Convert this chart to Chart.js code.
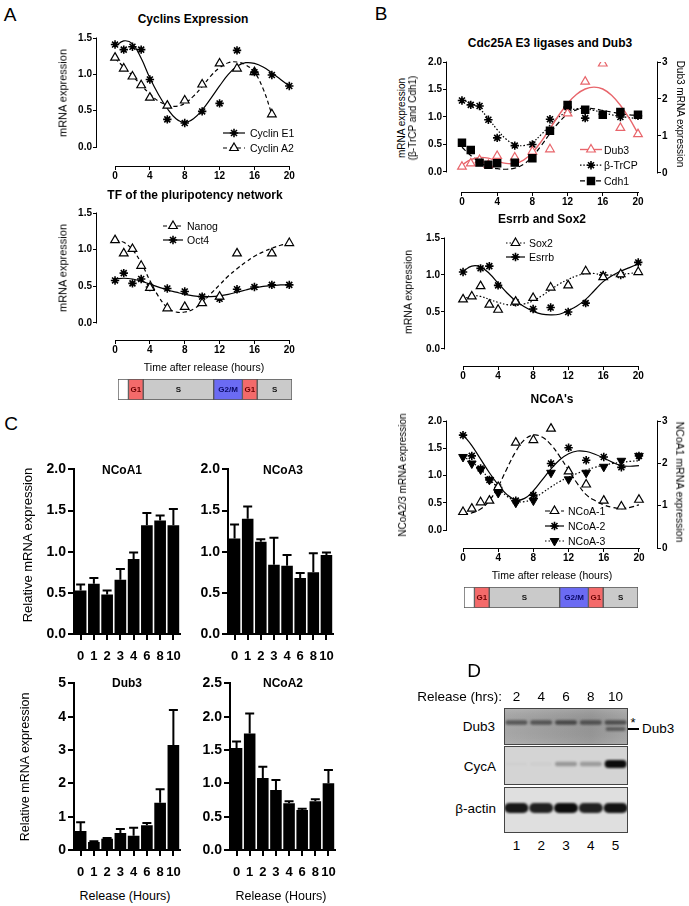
<!DOCTYPE html>
<html><head><meta charset="utf-8">
<script src="https://cdn.jsdelivr.net/npm/chart.js@4.4.1/dist/chart.umd.min.js"></script>
<style>
html,body{margin:0;padding:0;background:#fff;}
body{width:689px;height:906px;position:relative;overflow:hidden;font-family:"Liberation Sans",Arial,Helvetica,sans-serif;color:#000;}
.t{position:absolute;white-space:nowrap;line-height:1;}
canvas{position:absolute;}
</style></head><body>
<script>
// ================= DATA =================
// Panel A (top) - Cyclins expression
const cyclinE1Hours = [0,1,2,3,4,6,8,10,12,14,16,18,20];
const cyclinE1 = [1.41,1.34,1.38,1.34,0.93,0.38,0.33,0.49,0.60,1.33,1.03,0.99,0.84];
const cyclinA2Hours = [0,1,2,3,4,6,8,10,12,14,16,18];
const cyclinA2 = [1.23,1.08,0.97,0.85,0.68,0.57,0.64,0.86,1.15,1.08,1.03,0.45];
const fitHours = [0,1,2,3,4,5,6,7,8,9,10,11,12,13,14,15,16,17,18,19,20];
const fitHoursTo18 = [0,1,2,3,4,5,6,7,8,9,10,11,12,13,14,15,16,17,18];
const cyclinE1Fit = [1.38,1.46,1.42,1.22,0.95,0.72,0.53,0.39,0.34,0.39,0.51,0.67,0.84,1.00,1.11,1.16,1.15,1.10,1.02,0.93,0.84];
const cyclinA2Fit = [1.22,1.10,0.98,0.85,0.73,0.63,0.58,0.56,0.60,0.70,0.83,0.98,1.09,1.16,1.17,1.13,1.03,0.80,0.45];

// Panel A (bottom) - TF of the pluripotency network
const nanogHours = [0,1,2,3,4,6,8,10,12,14,18,20];
const nanog = [1.13,0.95,1.01,0.78,0.48,0.20,0.22,0.27,0.36,0.95,0.95,1.09];
const oct4Hours = [0,1,2,3,4,6,8,10,12,14,16,18,20];
const oct4 = [0.58,0.68,0.54,0.60,0.49,0.47,0.43,0.36,0.33,0.46,0.49,0.52,0.52];
const nanogFit = [1.13,1.10,1.00,0.82,0.58,0.36,0.21,0.15,0.15,0.19,0.28,0.40,0.52,0.64,0.74,0.83,0.91,0.97,1.02,1.06,1.08];
const oct4Fit = [0.60,0.61,0.60,0.57,0.53,0.49,0.45,0.42,0.39,0.37,0.36,0.36,0.37,0.39,0.42,0.45,0.48,0.50,0.51,0.52,0.52];

// Panel B (top) - Cdc25A E3 ligases and Dub3
const bHours = [0,1,2,3,4,6,8,10,12,14,16,18,20];
const dub3Time = [0.17,0.26,0.35,0.22,0.46,0.42,0.58,0.64,1.61,2.47,2.96,1.22,1.05];
const btrcp = [1.30,1.22,1.20,0.95,0.62,0.48,0.50,0.96,1.18,0.98,1.05,1.00,1.02];
const cdh1 = [0.53,0.40,0.17,0.13,0.16,0.17,0.25,0.75,1.22,1.13,1.04,1.09,1.04];
const dub3Fit = [0.22,0.36,0.42,0.40,0.32,0.26,0.26,0.35,0.55,0.85,1.20,1.56,1.88,2.12,2.27,2.32,2.27,2.10,1.83,1.48,1.07];
const btrcpFit = [1.30,1.26,1.15,0.97,0.77,0.60,0.50,0.48,0.54,0.68,0.85,1.00,1.10,1.15,1.15,1.12,1.08,1.04,1.01,0.99,0.97];
const cdh1Fit = [0.45,0.30,0.18,0.10,0.06,0.05,0.07,0.14,0.28,0.48,0.70,0.90,1.05,1.13,1.16,1.15,1.12,1.09,1.06,1.04,1.03];

// Panel B (middle) - Esrrb and Sox2
const sox2Hours = [0,1,2,3,4,6,8,10,12,14,16,18,20];
const sox2 = [0.67,0.71,0.85,0.60,0.53,0.64,0.69,0.83,0.86,1.05,0.97,1.01,1.04];
const esrrbHours = [0,2,3,4,6,8,10,12,14,16,18,20];
const esrrb = [1.04,1.09,1.12,0.86,0.63,0.54,0.56,0.50,0.62,1.00,1.00,1.17];
const sox2Fit = [0.67,0.72,0.71,0.67,0.63,0.60,0.59,0.61,0.65,0.72,0.80,0.88,0.94,0.99,1.02,1.02,1.00,1.00,1.01,1.02,1.04];
const esrrbFit = [1.05,1.12,1.11,1.02,0.89,0.76,0.65,0.57,0.51,0.47,0.46,0.47,0.52,0.58,0.67,0.79,0.91,0.99,1.05,1.10,1.15];

// Panel B (bottom) - NCoA's
const ncoa1Time = [0.85,0.93,1.08,1.12,1.44,2.49,2.55,2.82,1.81,1.50,1.12,0.98,1.14];
const ncoa2Time = [1.74,1.36,1.13,0.92,0.78,0.54,0.64,1.22,1.51,1.28,1.34,1.15,1.36];
const ncoa3Time = [1.34,1.22,1.11,0.92,0.68,0.50,0.54,1.05,0.93,1.05,1.16,1.27,1.36];
const ncoa1Fit = [0.80,0.83,0.92,1.12,1.45,1.88,2.28,2.56,2.67,2.62,2.44,2.16,1.84,1.52,1.26,1.12,1.02,0.96,0.93,0.96,1.02];
const ncoa2Fit = [1.75,1.55,1.30,1.05,0.83,0.65,0.55,0.58,0.72,0.92,1.12,1.29,1.40,1.45,1.44,1.39,1.32,1.24,1.18,1.17,1.18];
const ncoa3Fit = [1.35,1.25,1.11,0.94,0.77,0.62,0.53,0.52,0.58,0.68,0.79,0.89,0.97,1.04,1.10,1.15,1.19,1.22,1.24,1.26,1.27];

const timeTicks = [0,4,8,12,16,20];

// Cell-cycle phase bars
const phaseLabels = ['', 'G1', 'S', 'G2/M', 'G1', 'S'];
const phaseStart = [0, 1.2, 2.9, 11, 14.3, 16];
const phaseEnd = [1.2, 2.9, 11, 14.3, 16, 20];

// Panel C - relative mRNA expression bars
const releaseHours = ['0','1','2','3','4','6','8','10'];
const ncoa1Rel = [0.53,0.61,0.48,0.66,0.91,1.32,1.38,1.32];
const ncoa1RelErr = [0.07,0.07,0.05,0.13,0.08,0.15,0.06,0.20];
const ncoa3Rel = [1.16,1.40,1.12,0.84,0.83,0.68,0.75,0.96];
const ncoa3RelErr = [0.17,0.15,0.03,0.33,0.13,0.06,0.23,0.03];
const dub3Rel = [0.57,0.24,0.34,0.51,0.43,0.74,1.42,3.15];
const dub3RelErr = [0.26,0.02,0.02,0.12,0.24,0.07,0.40,1.05];
const ncoa2Rel = [1.53,1.75,1.08,0.90,0.70,0.60,0.73,1.00];
const ncoa2RelErr = [0.10,0.30,0.17,0.15,0.03,0.02,0.03,0.20];

// Panel D - western blot band intensities (0-1)
const blotTimes = ['2','4','6','8','10'];
const blotLanes = ['1','2','3','4','5'];
const dub3Band = [0.5,0.5,0.58,0.5,0.55];
const dub3LowerBand = [0,0,0,0,0.45];
const cycABand = [0.02,0.03,0.3,0.28,1.0];
const actinBand = [0.95,0.9,1.0,0.9,0.97];

// ================= HELPERS =================
const FONT = '"Liberation Sans", Arial, Helvetica, sans-serif';
Chart.defaults.font.family = FONT;
Chart.defaults.color = '#000';
const RED = '#e8656b';

function txt(s, x, y, o = {}) {
  const d = document.createElement('div');
  d.className = 't';
  d.textContent = s;
  const ax = o.align === 'left' ? '0' : o.align === 'right' ? '-100%' : '-50%';
  d.style.left = x + 'px'; d.style.top = y + 'px';
  d.style.fontSize = (o.size || 11) + 'px';
  d.style.fontWeight = o.bold ? 'bold' : 'normal';
  if (o.color) d.style.color = o.color;
  d.style.transform = `translate(${ax},-50%)` + (o.rot ? ` rotate(${o.rot}deg)` : '');
  document.body.appendChild(d);
  return d;
}
function mkCanvas(left, top, w, h) {
  const c = document.createElement('canvas');
  c.width = w; c.height = h;
  c.style.left = left + 'px'; c.style.top = top + 'px';
  c.style.width = w + 'px'; c.style.height = h + 'px';
  document.body.appendChild(c);
  return c;
}
function pts(xs, ys) { return ys.map((y, i) => ({ x: xs[i], y })); }

function ptsDS(data, style, o = {}) {
  return Object.assign({ data, showLine: false, pointStyle: style, pointRadius: 4,
    pointBorderWidth: 1.4, pointBorderColor: '#000', pointBackgroundColor: '#000',
    borderColor: '#000', order: 1 }, o);
}
function fitDS(data, dash, o = {}) {
  return Object.assign({ data, showLine: true, pointRadius: 0, borderColor: '#000',
    borderWidth: 1.2, borderDash: dash, tension: 0.4, fill: false, order: 5 }, o);
}
const TRI = { pointRadius: 5, pointBackgroundColor: '#fff', pointBorderWidth: 1.2 };

const gpAxes = { id: 'gpAxes', afterDraw(chart, args, o) {
  const ctx = chart.ctx, a = chart.chartArea;
  ctx.save(); ctx.strokeStyle = '#000'; ctx.lineWidth = 1; ctx.setLineDash([]);
  ctx.beginPath();
  if (o.x) { const X = chart.scales.x; ctx.moveTo(Math.round(X.getPixelForValue(o.x[0])), Math.round(a.bottom) + 0.5); ctx.lineTo(Math.round(X.getPixelForValue(o.x[1])) + 1, Math.round(a.bottom) + 0.5); }
  if (o.y) { const Y = chart.scales.y; ctx.moveTo(Math.round(a.left) - 0.5, Y.getPixelForValue(o.y[0]) + 0.5); ctx.lineTo(Math.round(a.left) - 0.5, Y.getPixelForValue(o.y[1]) - 0.5); }
  if (o.y2) { const Y = chart.scales.y2; ctx.moveTo(Math.round(a.right) + 0.5, Y.getPixelForValue(o.y2[0]) + 0.5); ctx.lineTo(Math.round(a.right) + 0.5, Y.getPixelForValue(o.y2[1]) - 0.5); }
  ctx.stroke(); ctx.restore();
}};

const gpLegend = { id: 'gpLegend', afterDraw(chart, args, o) {
  if (!o || !o.items) return;
  const ctx = chart.ctx;
  o.items.forEach((it, i) => {
    const y = o.y + i * o.dy - o.oy, x0 = o.x - o.ox;
    const L = chart.data.datasets[it.line], P = chart.data.datasets[it.point];
    ctx.save();
    ctx.strokeStyle = L.borderColor; ctx.lineWidth = L.borderWidth; ctx.setLineDash(L.borderDash || []);
    ctx.beginPath(); ctx.moveTo(x0, y); ctx.lineTo(x0 + o.w, y); ctx.stroke();
    ctx.setLineDash([]);
    ctx.fillStyle = P.pointBackgroundColor; ctx.strokeStyle = P.pointBorderColor; ctx.lineWidth = P.pointBorderWidth;
    Chart.helpers.drawPoint(ctx, { pointStyle: P.pointStyle, radius: P.pointRadius, rotation: P.pointRotation || 0, borderWidth: P.pointBorderWidth }, x0 + o.w / 2, y);
    ctx.restore();
  });
}};

function tickAxis(extra) {
  return Object.assign({
    grid: { drawOnChartArea: false, drawTicks: true, tickLength: 4, color: '#000', lineWidth: 1 },
    border: { display: false },
  }, extra);
}

function lineChart(g, datasets, legend, axes) {
  const yW = 40, xH = 24, pt = 10, rW = 40;
  const hasR = !!g.y2;
  const W = Math.round(g.r - g.l) + yW + rW, H = (g.b - g.t) + pt + xH;
  const L0 = g.l - yW, T0 = g.t - pt;
  const cv = mkCanvas(L0, T0, W, H);
  const tickFont = { family: FONT, size: 10, weight: 'bold' };
  const scales = {
    x: tickAxis({ type: 'linear', position: 'bottom', min: g.xmin, max: g.xmax,
      afterBuildTicks: s => { s.ticks = timeTicks.map(v => ({ value: v })); },
      afterFit: s => { s.height = xH; },
      ticks: { font: tickFont, color: '#000', padding: 0, maxRotation: 0, autoSkip: false, callback: v => String(v) } }),
    y: tickAxis({ type: 'linear', position: 'left', min: g.ymin, max: g.ymax,
      afterBuildTicks: s => { s.ticks = g.yTicks.map(v => ({ value: v })); },
      afterFit: s => { s.width = yW; },
      ticks: { font: tickFont, color: '#000', padding: 1, callback: v => v.toFixed(1) } })
  };
  if (hasR) {
    scales.y2 = tickAxis({ type: 'linear', position: 'right', min: g.y2.min, max: g.y2.max,
      afterBuildTicks: s => { s.ticks = g.y2.ticks.map(v => ({ value: v })); },
      afterFit: s => { s.width = rW; },
      ticks: { font: tickFont, color: '#000', padding: 1, callback: v => String(v) } });
  }
  if (legend) { legend.ox = L0; legend.oy = T0; }
  return new Chart(cv, {
    type: 'line', data: { datasets },
    options: { responsive: false, animation: false, events: [],
      layout: { padding: { top: pt, right: hasR ? 0 : rW, left: 0, bottom: 0 } },
      scales,
      plugins: { legend: { display: false }, title: { display: false }, tooltip: { enabled: false },
        gpLegend: legend || {}, gpAxes: axes } },
    plugins: [gpAxes, gpLegend]
  });
}

const errBars = { id: 'errBars', afterDatasetsDraw(chart) {
  const ds = chart.data.datasets[0]; if (!ds.errors) return;
  const meta = chart.getDatasetMeta(0), Y = chart.scales.y, ctx = chart.ctx;
  ctx.save(); ctx.strokeStyle = '#000'; ctx.lineWidth = 2;
  meta.data.forEach((el, i) => {
    const top = Y.getPixelForValue(ds.data[i] + ds.errors[i]);
    ctx.beginPath(); ctx.moveTo(el.x, el.y); ctx.lineTo(el.x, top);
    ctx.moveTo(el.x - 4.5, top); ctx.lineTo(el.x + 4.5, top); ctx.stroke();
  });
  ctx.restore();
}};

function barChart(g, vals, errs) {
  const yW = 46, xH = 32, pt = 10, pr = 12;
  const W = (g.r - g.l) + yW + pr, H = (g.b - g.t) + pt + xH;
  const cv = mkCanvas(g.l - yW, g.t - pt, W, H);
  const f = { family: FONT, size: 14, weight: 'bold' };
  return new Chart(cv, {
    type: 'bar',
    data: { labels: releaseHours, datasets: [{ data: vals, errors: errs, backgroundColor: '#000', barPercentage: 0.88, categoryPercentage: 1 }] },
    options: { responsive: false, animation: false, events: [],
      layout: { padding: { top: pt, right: pr, left: 0, bottom: 0 } },
      scales: {
        x: { grid: { drawOnChartArea: false, tickLength: 6, lineWidth: 2, color: '#000', offset: false },
             border: { display: true, width: 2, color: '#000' },
             ticks: { font: { family: FONT, size: 13, weight: 'bold' }, color: '#000', padding: 9, autoSkip: false, maxRotation: 0, minRotation: 0 },
             afterFit: s => { s.height = xH; } },
        y: { min: 0, max: g.ymax,
             grid: { drawOnChartArea: false, tickLength: 6, lineWidth: 2, color: '#000' },
             border: { display: true, width: 2, color: '#000' },
             ticks: { stepSize: g.step, font: f, color: '#000', padding: 2, callback: v => g.step >= 1 ? String(v) : v.toFixed(1) },
             afterFit: s => { s.width = yW; } }
      },
      plugins: { legend: { display: false }, tooltip: { enabled: false } } },
    plugins: [errBars]
  });
}

const phaseText = { id: 'phaseText', afterDatasetsDraw(chart) {
  const ctx = chart.ctx; ctx.save();
  ctx.font = 'bold 8px ' + FONT; ctx.textAlign = 'center'; ctx.textBaseline = 'middle';
  chart.data.datasets.forEach((ds, i) => {
    if (!ds.label) return;
    const el = chart.getDatasetMeta(i).data[0];
    ctx.fillStyle = ds.textColor;
    ctx.fillText(ds.label, (el.x + el.base) / 2, el.y + 0.5);
  });
  ctx.restore();
}};
const phaseFill = { '': '#ffffff', 'G1': '#f46a6a', 'S': '#cacaca', 'G2/M': '#6b6bf3' };
const phaseInk = { '': '#000', 'G1': '#6b0000', 'S': '#111', 'G2/M': '#0a0a66' };
function phaseBar(left, top) {
  const cv = mkCanvas(left, top, 174, 21);
  return new Chart(cv, {
    type: 'bar',
    data: { labels: ['cycle'], datasets: phaseLabels.map((p, i) => ({
      label: p, data: [[phaseStart[i], phaseEnd[i]]], backgroundColor: phaseFill[p], textColor: phaseInk[p],
      borderColor: '#555', borderWidth: 1, borderSkipped: false, grouped: false, barPercentage: 1, categoryPercentage: 1 })) },
    options: { indexAxis: 'y', responsive: false, animation: false, events: [],
      layout: { padding: 0 },
      scales: { x: { type: 'linear', min: phaseStart[0], max: phaseEnd[phaseEnd.length - 1], display: false },
                y: { display: false } },
      plugins: { legend: { display: false }, tooltip: { enabled: false } } },
    plugins: [phaseText]
  });
}

// ================= PANEL A =================
txt('A', 10, 14, { size: 19 });
txt('Cyclins Expression', 193, 19, { size: 12, bold: true });
lineChart({ l: 97, r: 297.7, t: 38, b: 166, xmin: -2.07, xmax: 21, ymin: -0.261, ymax: 1.5, yTicks: [0, 0.5, 1, 1.5] }, [
  ptsDS(pts(cyclinE1Hours, cyclinE1), 'star', { pointRadius: 4.2, pointBorderWidth: 1.6 }),
  ptsDS(pts(cyclinA2Hours, cyclinA2), 'triangle', TRI),
  fitDS(pts(fitHours, cyclinE1Fit), []),
  fitDS(pts(fitHoursTo18, cyclinA2Fit), [4, 3]),
], { x: 223, w: 22, y: 133, dy: 15, items: [{ line: 2, point: 0 }, { line: 3, point: 1 }] },
   { x: [0, 20], y: [0, 1.5] });
txt('Cyclin E1', 250, 133, { size: 10.5, align: 'left' });
txt('Cyclin A2', 250, 148, { size: 10.5, align: 'left' });
txt('mRNA expression', 63, 93, { size: 11, rot: -90 });

txt('TF of the pluripotency network', 195, 195, { size: 12, bold: true });
lineChart({ l: 97, r: 297.7, t: 213, b: 340, xmin: -2.07, xmax: 21, ymin: -0.232, ymax: 1.5, yTicks: [0, 0.5, 1, 1.5] }, [
  ptsDS(pts(nanogHours, nanog), 'triangle', TRI),
  ptsDS(pts(oct4Hours, oct4), 'star', { pointRadius: 4.2, pointBorderWidth: 1.6 }),
  fitDS(pts(fitHours, nanogFit), [4, 3]),
  fitDS(pts(fitHours, oct4Fit), []),
], { x: 163, w: 20, y: 226, dy: 14, items: [{ line: 2, point: 0 }, { line: 3, point: 1 }] },
   { x: [0, 20], y: [0, 1.5] });
txt('Nanog', 187, 226, { size: 10.5, align: 'left' });
txt('Oct4', 187, 240, { size: 10.5, align: 'left' });
txt('mRNA expression', 63, 268, { size: 11, rot: -90 });
txt('Time after release (hours)', 204, 367, { size: 10.5 });
phaseBar(118, 379);

// ================= PANEL B =================
txt('B', 381, 13, { size: 19 });
txt('Cdc25A E3 ligases and Dub3', 550, 43, { size: 12, bold: true });
lineChart({ l: 447, r: 657, t: 62, b: 192, xmin: -1.70, xmax: 22.16, ymin: -0.364, ymax: 2, yTicks: [0, 0.5, 1, 1.5, 2],
            y2: { min: -0.514, max: 3, ticks: [0, 1, 2, 3] } }, [
  ptsDS(pts(bHours, dub3Time), 'triangle', Object.assign({}, TRI, { yAxisID: 'y2', pointBorderColor: RED, order: 2 })),
  ptsDS(pts(bHours, btrcp), 'star', { pointRadius: 4.2, pointBorderWidth: 1.6, order: 2 }),
  ptsDS(pts(bHours, cdh1), 'rect', { pointRadius: 5, order: 0 }),
  fitDS(pts(fitHours, dub3Fit), [], { yAxisID: 'y2', borderColor: RED, borderWidth: 1.4 }),
  fitDS(pts(fitHours, btrcpFit), [1.5, 1.8]),
  fitDS(pts(fitHours, cdh1Fit), [5, 3]),
], { x: 580, w: 22, y: 149.5, dy: 15.7, items: [{ line: 3, point: 0 }, { line: 4, point: 1 }, { line: 5, point: 2 }] },
   { x: [0, 20], y: [0, 2], y2: [0, 3] });
txt('Dub3', 604, 149.5, { size: 10.5, align: 'left' });
txt('β-TrCP', 604, 165.2, { size: 10.5, align: 'left' });
txt('Cdh1', 604, 180.9, { size: 10.5, align: 'left' });
txt('mRNA expression', 402, 118, { size: 10, rot: -90 });
txt('(β-TrCP and Cdh1)', 413, 118, { size: 10, rot: -90 });
txt('Dub3 mRNA expression', 680, 114, { size: 10, rot: 90 });

txt('Esrrb and Sox2', 542, 219, { size: 12, bold: true });
lineChart({ l: 445, r: 646.8, t: 238, b: 366, xmin: -2.06, xmax: 21, ymin: -0.23, ymax: 1.5, yTicks: [0, 0.5, 1, 1.5] }, [
  ptsDS(pts(sox2Hours, sox2), 'triangle', TRI),
  ptsDS(pts(esrrbHours, esrrb), 'star', { pointRadius: 4.2, pointBorderWidth: 1.6 }),
  fitDS(pts(fitHours, sox2Fit), [1.5, 2]),
  fitDS(pts(fitHours, esrrbFit), []),
], { x: 506, w: 19, y: 243, dy: 14, items: [{ line: 2, point: 0 }, { line: 3, point: 1 }] },
   { x: [0, 20], y: [0, 1.5] });
txt('Sox2', 529, 243, { size: 10.5, align: 'left' });
txt('Esrrb', 529, 257, { size: 10.5, align: 'left' });
txt('mRNA expression', 408, 292, { size: 10.5, rot: -90 });

txt("NCoA's", 552, 399, { size: 12, bold: true });
lineChart({ l: 447, r: 657, t: 421, b: 548, xmin: -1.82, xmax: 22.05, ymin: -0.33, ymax: 2, yTicks: [0, 0.5, 1, 1.5, 2],
            y2: { min: 0, max: 3, ticks: [0, 1, 2, 3] } }, [
  ptsDS(pts(bHours, ncoa1Time), 'triangle', Object.assign({}, TRI, { yAxisID: 'y2' })),
  ptsDS(pts(bHours, ncoa2Time), 'star', { pointRadius: 4.2, pointBorderWidth: 1.6 }),
  ptsDS(pts(bHours, ncoa3Time), 'triangle', { pointRadius: 5, pointRotation: 180, pointBorderWidth: 1 }),
  fitDS(pts(fitHours, ncoa1Fit), [5, 3], { yAxisID: 'y2' }),
  fitDS(pts(fitHours, ncoa2Fit), []),
  fitDS(pts(fitHours, ncoa3Fit), [1.5, 2]),
], { x: 545, w: 19, y: 511, dy: 15, items: [{ line: 3, point: 0 }, { line: 4, point: 1 }, { line: 5, point: 2 }] },
   { x: [0, 20], y: [0, 2], y2: [0, 3] });
txt('NCoA-1', 568, 511, { size: 10.5, align: 'left' });
txt('NCoA-2', 568, 526, { size: 10.5, align: 'left' });
txt('NCoA-3', 568, 541, { size: 10.5, align: 'left' });
txt('NCoA2/3 mRNA expression', 403, 475, { size: 10, rot: -90 });
txt('NCoA1 mRNA expression', 680, 482, { size: 10.5, rot: 90 });
txt('Time after release (hours)', 552, 575, { size: 10.5 });
phaseBar(464, 587);

// ================= PANEL C =================
txt('C', 11, 423, { size: 19 });
barChart({ l: 74, r: 180, t: 469, b: 634, ymax: 2, step: 0.5 }, ncoa1Rel, ncoa1RelErr);
barChart({ l: 228, r: 333, t: 469, b: 634, ymax: 2, step: 0.5 }, ncoa3Rel, ncoa3RelErr);
barChart({ l: 74, r: 180, t: 683, b: 850, ymax: 5, step: 1 }, dub3Rel, dub3RelErr);
barChart({ l: 230, r: 335, t: 683, b: 850, ymax: 2.5, step: 0.5 }, ncoa2Rel, ncoa2RelErr);
txt('NCoA1', 122, 470, { size: 12, bold: true });
txt('NCoA3', 283, 470, { size: 12, bold: true });
txt('Dub3', 127, 683, { size: 12, bold: true });
txt('NCoA2', 283, 683, { size: 12, bold: true });
txt('Relative mRNA expression', 27, 545, { size: 13, rot: -90 });
txt('Relative mRNA expression', 25, 767, { size: 12.5, rot: -90 });
txt('Release (Hours)', 125, 896, { size: 12.5 });
txt('Release (Hours)', 281, 896, { size: 12.5 });

// ================= PANEL D =================
txt('D', 474, 670, { size: 19 });
const blotDraw = { id: 'blotDraw', afterDraw(chart) {
  const ctx = chart.ctx, X = chart.scales.x, W = chart.width;
  const rows = [{ y0: 0, y1: 36 }, { y0: 38, y1: 76 }, { y0: 79, y1: 124 }];
  ctx.save();
  let g = ctx.createLinearGradient(0, 0, W, 0);
  g.addColorStop(0, '#a9a9a9'); g.addColorStop(0.45, '#9d9d9d'); g.addColorStop(0.7, '#969696'); g.addColorStop(1, '#a6a6a6');
  ctx.fillStyle = g; ctx.fillRect(0.5, rows[0].y0 + 0.5, W - 1, rows[0].y1 - rows[0].y0);
  const g2 = ctx.createLinearGradient(0, rows[0].y0, 0, rows[0].y1);
  g2.addColorStop(0, 'rgba(255,255,255,0.15)'); g2.addColorStop(0.5, 'rgba(0,0,0,0)'); g2.addColorStop(1, 'rgba(255,255,255,0.08)');
  ctx.fillStyle = g2; ctx.fillRect(0.5, rows[0].y0 + 0.5, W - 1, rows[0].y1 - rows[0].y0);
  ctx.fillStyle = '#d4d4d4'; ctx.fillRect(0.5, rows[1].y0 + 0.5, W - 1, rows[1].y1 - rows[1].y0);
  ctx.fillStyle = '#dfdfdf'; ctx.fillRect(0.5, rows[2].y0 + 0.5, W - 1, rows[2].y1 - rows[2].y0);
  ctx.restore();
  function band(row, cx, cy, w, h, a) {
    if (a <= 0) return;
    ctx.save();
    ctx.beginPath(); ctx.rect(0.5, row.y0 + 0.5, W - 1, row.y1 - row.y0); ctx.clip();
    ctx.filter = 'blur(1.3px)';
    ctx.fillStyle = `rgba(12,12,12,${a})`;
    ctx.beginPath(); ctx.roundRect(cx - w / 2, cy - h / 2, w, h, h / 2); ctx.fill();
    ctx.restore();
  }
  blotTimes.forEach((t, i) => {
    const cx = X.getPixelForValue(i);
    band(rows[0], cx, 14.5, 22, 4.5, dub3Band[i]);
    band(rows[0], cx, 21, 20, 4, dub3LowerBand[i]);
    band(rows[1], cx, 56, 22, 3 + 5 * cycABand[i], cycABand[i]);
    band(rows[2], cx, 100, 24, 10, actinBand[i]);
  });
  ctx.save(); ctx.strokeStyle = '#444'; ctx.lineWidth = 1;
  rows.forEach(r => ctx.strokeRect(0.5, r.y0 + 0.5, W - 1, r.y1 - r.y0));
  ctx.restore();
}};
const blotCanvas = mkCanvas(504, 708, 124, 125);
const blot = new Chart(blotCanvas, {
  type: 'bar', data: { labels: blotTimes, datasets: [] },
  options: { responsive: false, animation: false, events: [], layout: { padding: 0 },
    scales: { x: { type: 'category', display: false, offset: true }, y: { display: false, min: 0, max: 1 } },
    plugins: { legend: { display: false }, tooltip: { enabled: false } } },
  plugins: [blotDraw]
});
txt('Release (hrs):', 502, 697, { size: 13.5, align: 'right' });
blotTimes.forEach((t, i) => txt(t, 504 + blot.scales.x.getPixelForValue(i), 697, { size: 13.5 }));
blotLanes.forEach((t, i) => txt(t, 504 + blot.scales.x.getPixelForValue(i), 846, { size: 13.5 }));
txt('Dub3', 495, 727, { size: 13.5, align: 'right' });
txt('CycA', 496, 767, { size: 13.5, align: 'right' });
txt('β-actin', 496, 809, { size: 13.5, align: 'right' });
txt('*', 633, 722, { size: 13 });
const dash = document.createElement('div');
dash.style.cssText = 'position:absolute;left:628px;top:728px;width:11px;height:1.5px;background:#000;';
document.body.appendChild(dash);
txt('Dub3', 642, 729, { size: 13.5, align: 'left' });
</script>
</body></html>
